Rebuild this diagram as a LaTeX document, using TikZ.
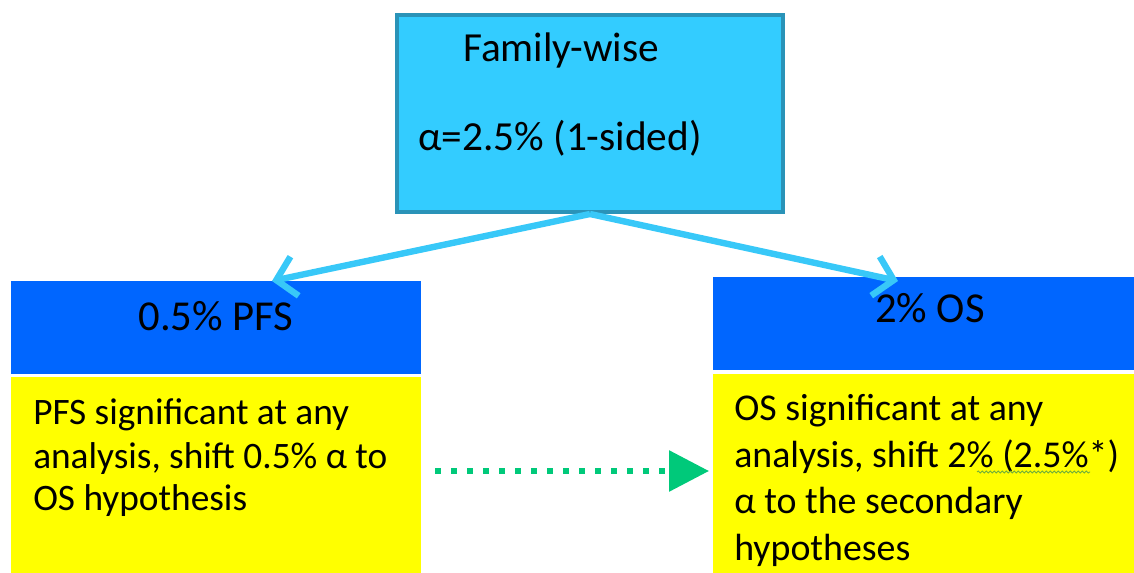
\documentclass[tikz,border=0pt]{standalone}
\usepackage{fontspec}
\setmainfont{Carlito}
\usetikzlibrary{arrows.meta,decorations.pathmorphing}
\definecolor{fwfill}{HTML}{33CCFF}
\definecolor{fwline}{HTML}{2A93B8}
\definecolor{hdblue}{HTML}{0066FF}
\definecolor{bodyyel}{HTML}{FFFF00}
\definecolor{arrblue}{HTML}{38C8F8}
\definecolor{arrgreen}{HTML}{00C97A}
\definecolor{squig}{HTML}{6FAE3C}
\tikzset{
  fwbox/.style={draw=fwline,line width=3pt,fill=fwfill,minimum width=289.5pt,minimum height=147.75pt,inner sep=0pt},
  hdbox/.style={fill=hdblue,inner sep=0pt},
  bodybox/.style={fill=bodyyel,inner sep=0pt},
  toptxt/.style={font=\fontsize{31}{36}\selectfont,anchor=base west,inner sep=0pt},
  txt/.style={font=\fontsize{28}{33}\selectfont,anchor=base west,inner sep=0pt},
  rtxt/.style={font=\fontsize{28.4}{33}\selectfont,anchor=base west,inner sep=0pt},
  hdtxt/.style={font=\fontsize{32}{36}\selectfont,anchor=base,inner sep=0pt},
  splitarrow/.style={draw=arrblue,line width=4.8pt,-{Straight Barb[length=14pt,width=30pt,line width=4.8pt]}},
  passarrow/.style={draw=arrgreen,line width=4.5pt,dash pattern=on 4.5pt off 7.5pt,-{Triangle[length=30pt,width=30pt]}}
}
\begin{document}
\begin{tikzpicture}[x=0.75pt,y=-0.75pt]
\useasboundingbox (0,0) rectangle (1134,573);
% top box
\node[fwbox] (fw) at (590,113.5) {};
\node[toptxt] (fwt1) at (463,62) {Family-wise};
\node[toptxt] (fwt2) at (418,151) {α=2.5\% (1-sided)};
% left column
\node[hdbox,minimum width=307.5pt,minimum height=69.75pt] (pfsh) at (216,327.5) {};
\node[hdtxt] (pfsht) at (216,330) {0.5\% PFS};
\node[bodybox,minimum width=307.5pt,minimum height=147pt] (pfsb) at (216,475) {};
\node[txt] (pfs1) at (33,424) {PFS significant at any};
\node[txt] (pfs2) at (33,468) {analysis, shift 0.5\% α to};
\node[txt] (pfs3) at (33,510) {OS hypothesis};
% right column
\node[hdbox,minimum width=315.75pt,minimum height=69.75pt] (osh) at (923.5,323.5) {};
\node[hdtxt] (osht) at (930,323) {2\% OS};
\node[bodybox,minimum width=315.75pt,minimum height=149.25pt] (osb) at (923.5,473.5) {};
\node[rtxt] (os1) at (734,420) {OS significant at any};
\node[rtxt] (os2) at (734,467) {analysis, shift 2\% (2.5\%*)};
\node[rtxt] (os3) at (734,513) {α to the secondary};
\node[rtxt] (os4) at (734,560) {hypotheses};
\coordinate (sqa) at (977,472);
\coordinate (sqb) at (1090,472);
\draw[squig,line width=0.6pt,decorate,decoration={snake,amplitude=0.8pt,segment length=3pt}] (sqa) -- (sqb);
% connectors
\coordinate (lt) at (272,281);
\coordinate (rt) at (898,281);
\draw[splitarrow] (fw.south) -- (lt);
\draw[splitarrow] (fw.south) -- (rt);
\coordinate (ga) at (435,471);
\coordinate (gb) at (709,471);
\draw[passarrow] (ga) -- (gb);
\end{tikzpicture}
\end{document}
